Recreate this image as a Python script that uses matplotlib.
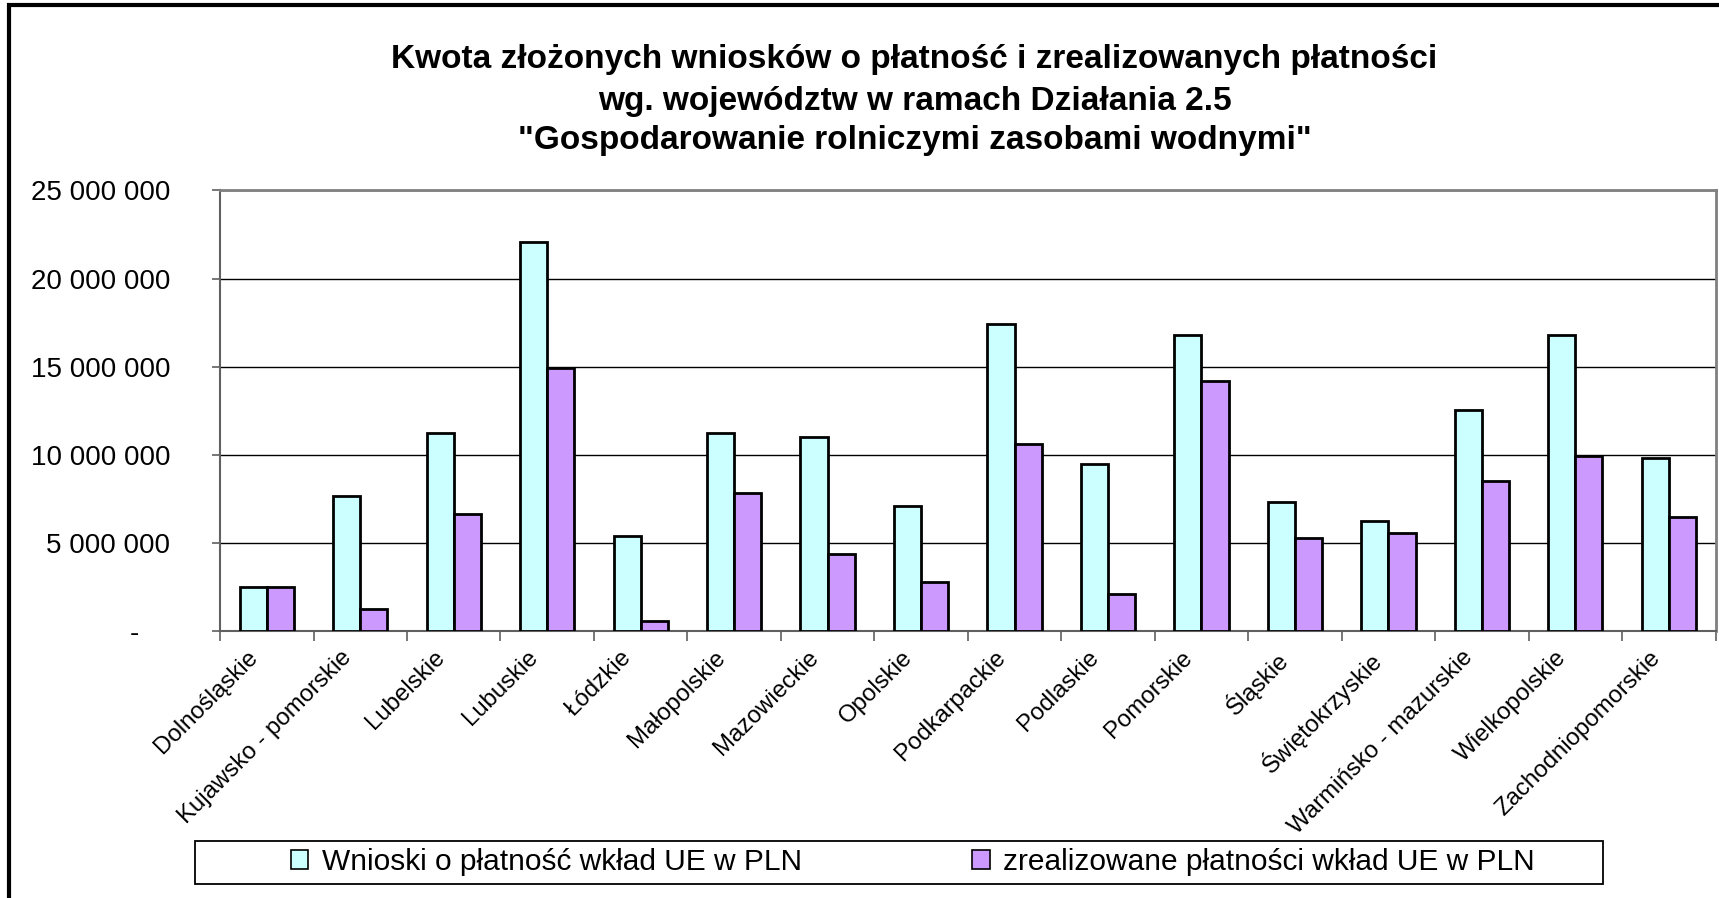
import matplotlib.pyplot as plt
import matplotlib.ticker as mticker
import matplotlib.transforms as mtransforms
from matplotlib.patches import Rectangle
import numpy as np

plt.rcParams['font.family'] = ['Liberation Sans', 'DejaVu Sans']

regions = [
    "Dolnośląskie", "Kujawsko - pomorskie", "Lubelskie", "Lubuskie", "Łódzkie",
    "Małopolskie", "Mazowieckie", "Opolskie", "Podkarpackie", "Podlaskie",
    "Pomorskie", "Śląskie", "Świętokrzyskie", "Warmińsko - mazurskie",
    "Wielkopolskie", "Zachodniopomorskie",
]

# values in PLN
wnioski = [2.49e6, 7.69e6, 11.24e6, 22.05e6, 5.42e6, 11.24e6, 11.02e6, 7.09e6,
           17.40e6, 9.47e6, 16.82e6, 7.33e6, 6.27e6, 12.57e6, 16.82e6, 9.81e6]
zrealizowane = [2.49e6, 1.27e6, 6.63e6, 14.91e6, 0.57e6, 7.82e6, 4.37e6, 2.82e6,
                10.64e6, 2.12e6, 14.21e6, 5.31e6, 5.56e6, 8.52e6, 9.96e6, 6.50e6]

labels = ["Wnioski o płatność wkład UE w PLN",
          "zrealizowane płatności wkład UE w PLN"]
colors = ["#CCFFFF", "#CC99FF"]

fig = plt.figure(figsize=(17.19, 8.98), dpi=100)
ax = fig.add_axes([0.128, 0.297, 0.870, 0.491])

x = np.arange(len(regions))
w = 0.29
ax.bar(x - w / 2, wnioski, w, color=colors[0], edgecolor="black", linewidth=2,
       label=labels[0], zorder=3)
ax.bar(x + w / 2, zrealizowane, w, color=colors[1], edgecolor="black", linewidth=2,
       label=labels[1], zorder=3)

ax.set_xlim(-0.5, len(regions) - 0.5)
ax.set_ylim(0, 25e6)

def fmt(v, pos):
    if v == 0:
        return "-    "
    return f"{int(v):,}".replace(",", " ")

ax.yaxis.set_major_locator(mticker.MultipleLocator(5e6))
ax.yaxis.set_major_formatter(mticker.FuncFormatter(fmt))
ax.grid(axis="y", color="black", linewidth=1.0, zorder=0)

ax.set_xticks(x)
ax.set_xticklabels(regions, rotation=45, ha="right", rotation_mode="anchor", fontsize=17.3)
ax.tick_params(axis="x", length=0, pad=11)
shift = mtransforms.ScaledTranslation(-0.2, 0, fig.dpi_scale_trans)
for lbl in ax.get_xticklabels():
    lbl.set_transform(lbl.get_transform() + shift)
ax.set_xticks(np.arange(len(regions) + 1) - 0.5, minor=True)
ax.tick_params(axis="x", which="minor", length=7, width=1.2, color="#606060")
ax.tick_params(axis="y", length=6, width=1.2, color="#606060", labelsize=20, pad=30)

for s in ["top", "right"]:
    ax.spines[s].set_color("#808080")
    ax.spines[s].set_linewidth(2)
for s in ["left", "bottom"]:
    ax.spines[s].set_color("#606060")
    ax.spines[s].set_linewidth(1.5)

fig.text(0.532, 0.934, "Kwota złożonych wniosków o płatność i zrealizowanych płatności",
         ha="center", va="center", fontsize=24, fontweight="bold")
fig.text(0.532, 0.887, "wg. województw w ramach Działania 2.5",
         ha="center", va="center", fontsize=24, fontweight="bold")
fig.text(0.532, 0.843, "\"Gospodarowanie rolniczymi zasobami wodnymi\"",
         ha="center", va="center", fontsize=24, fontweight="bold")

leg = fig.legend(loc="center", bbox_to_anchor=(0.531, 0.040, 0, 0), ncol=2,
                 fontsize=21.5, frameon=False, handlelength=0.6,
                 handleheight=0.6, columnspacing=5.7, borderpad=0,
                 handletextpad=0.45)
for h in leg.legend_handles:
    h.set_linewidth(1.2)

fig.patches.append(Rectangle((195 / 1719, 1 - 884 / 898), 1408 / 1719, 43 / 898,
                             transform=fig.transFigure, fill=False,
                             edgecolor="black", linewidth=1.3, zorder=5))

fig.patches.append(Rectangle((9 / 1719, -0.05), 1.1, 1.05 - 5 / 898,
                             transform=fig.transFigure, fill=False,
                             edgecolor="black", linewidth=3, zorder=10))

fig.savefig("out.png", dpi=100)
